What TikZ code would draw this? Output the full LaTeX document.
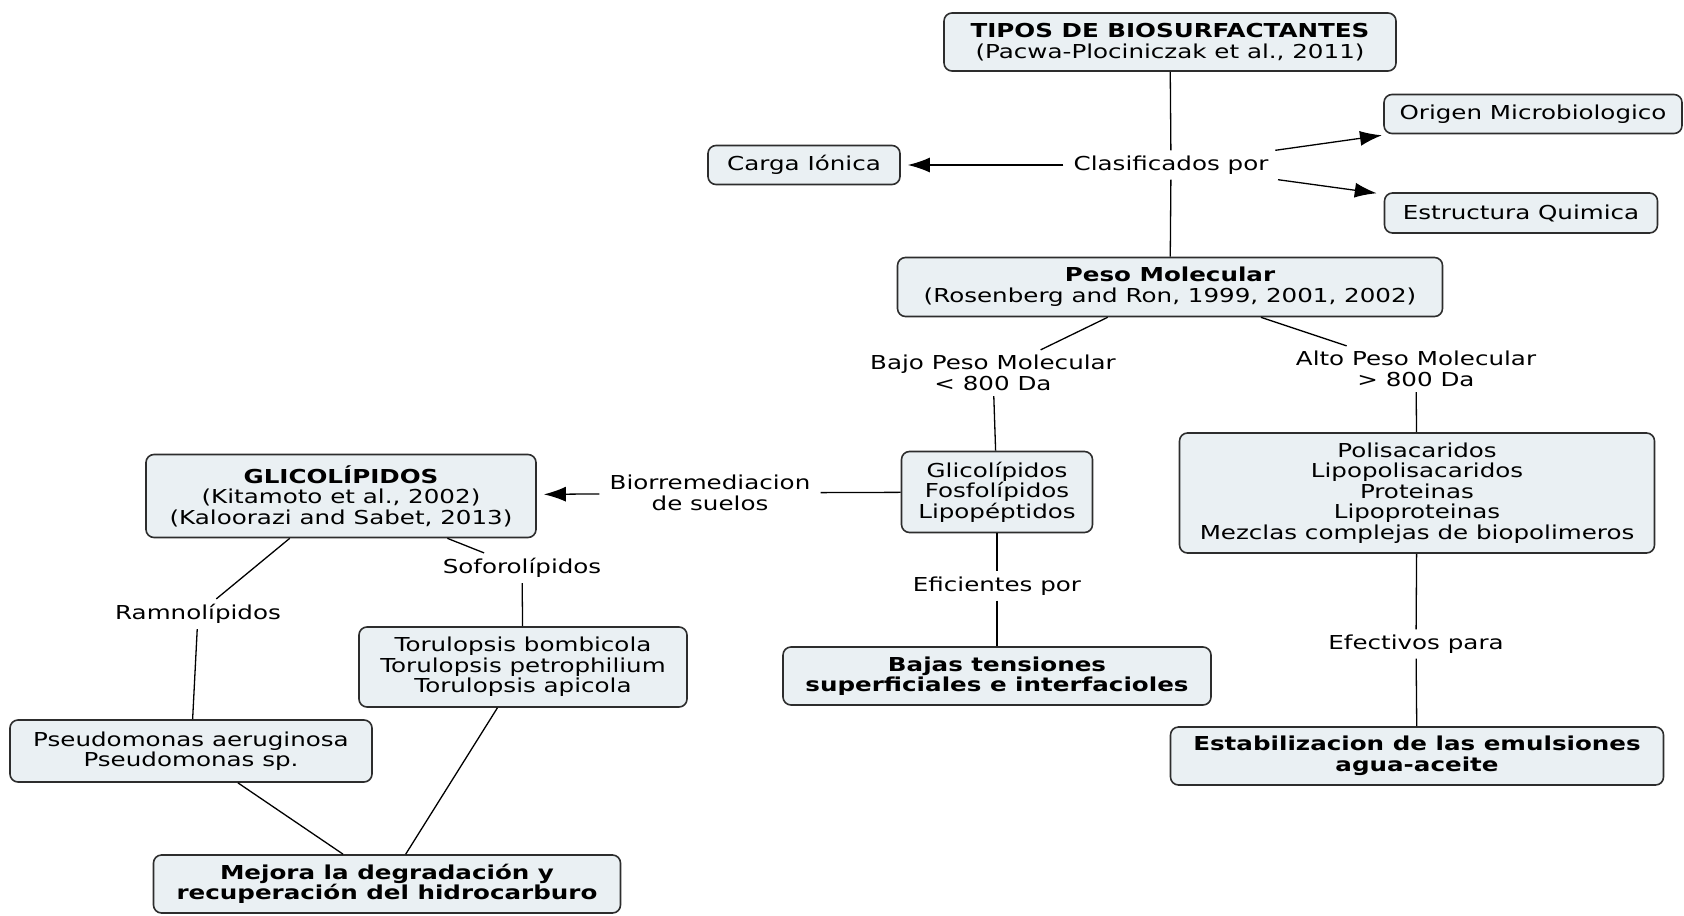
\documentclass[tikz,border=0pt]{standalone}
\usepackage{fontspec}
\setmainfont{DejaVu Sans}[FakeStretch=1.28]
\usepackage{tikz}
\usetikzlibrary{arrows.meta}
\definecolor{boxfill}{RGB}{234,240,243}
\definecolor{boxline}{RGB}{45,45,45}

\begin{document}
\begin{tikzpicture}[x=0.5pt,y=-0.5pt,
    font=\fontsize{9.6pt}{10.3pt}\selectfont,
    box/.style={draw=boxline,fill=boxfill,rounded corners=4pt,line width=0.8pt,align=center,inner sep=0pt},
    lbl/.style={align=center,inner xsep=5pt,inner ysep=2.5pt},
    link/.style={line width=0.65pt},
    arr/.style={link,-{Latex[length=11pt,width=7.5pt]},shorten >=3.5pt}]
\useasboundingbox (0,0) rectangle (1684,915);

\node[box,minimum width=226pt,minimum height=29pt] (tipos) at (1170,42) {\textbf{TIPOS DE BIOSURFACTANTES}\\(Pacwa-Plociniczak et al., 2011)};
\node[lbl] (clasif) at (1171,165) {Clasificados por};
\node[box,minimum width=96pt,minimum height=19.5pt] (carga) at (804,165) {Carga Iónica};
\node[box,minimum width=149pt,minimum height=19.5pt] (origen) at (1533,114) {Origen Microbiologico};
\node[box,minimum width=136.5pt,minimum height=20pt] (estruct) at (1521,213) {Estructura Quimica};
\node[box,minimum width=272.5pt,minimum height=29.5pt] (peso) at (1170,287) {\textbf{Peso Molecular}\\(Rosenberg and Ron, 1999, 2001, 2002)};

\node[lbl] (bajo) at (993,373) {Bajo Peso Molecular\\< 800 Da};
\node[lbl] (alto) at (1416,369) {Alto Peso Molecular\\> 800 Da};
\node[box,minimum width=95.5pt,minimum height=40.5pt] (glico) at (997,492) {Glicolípidos\\Fosfolípidos\\Lipopéptidos};
\node[box,minimum width=237.5pt,minimum height=60pt] (poli) at (1417,493) {Polisacaridos\\Lipopolisacaridos\\Proteinas\\Lipoproteinas\\Mezclas complejas de biopolimeros};
\node[lbl] (efic) at (997,586) {Eficientes por};
\node[box,minimum width=214pt,minimum height=29pt] (bajas) at (997,676) {\textbf{Bajas tensiones}\\\textbf{superficiales e interfacioles}};
\node[lbl] (efect) at (1416,644) {Efectivos para};
\node[box,minimum width=246.5pt,minimum height=29pt] (estab) at (1417,756) {\textbf{Estabilizacion de las emulsiones}\\\textbf{agua-aceite}};

\node[lbl] (bio) at (710,493) {Biorremediacion\\de suelos};
\node[box,minimum width=195pt,minimum height=41.5pt] (glicol) at (341,496) {\textbf{GLICOLÍPIDOS}\\(Kitamoto et al., 2002)\\(Kaloorazi and Sabet, 2013)};
\node[lbl] (sofor) at (522,568) {Soforolípidos};
\node[lbl] (ramno) at (198,614) {Ramnolípidos};
\node[box,minimum width=164pt,minimum height=40pt] (torul) at (523,667) {Torulopsis bombicola\\Torulopsis petrophilium\\Torulopsis apicola};
\node[box,minimum width=181pt,minimum height=31pt] (pseudo) at (191,751) {Pseudomonas aeruginosa\\Pseudomonas sp.};
\node[box,minimum width=233.5pt,minimum height=29pt] (mejora) at (387,884) {\textbf{Mejora la degradación y}\\\textbf{recuperación del hidrocarburo}};

\draw[link] (tipos) -- (clasif);
\draw[link] (clasif) -- (peso);
\foreach \t in {carga,origen,estruct}
    {\draw[arr] (clasif) -- (\t);}
\draw[link] (peso) -- (bajo);
\draw[link] (peso) -- (alto);
\draw[link] (bajo) -- (glico);
\draw[link] (alto) -- (poli);
\draw[link] (glico) -- (efic);
\draw[link] (efic) -- (bajas);
\draw[link] (poli) -- (efect);
\draw[link] (efect) -- (estab);
\draw[link] (glico) -- (bio);
\draw[arr] (bio) -- (glicol);
\draw[link] (glicol) -- (ramno);
\draw[link] (ramno) -- (pseudo);
\draw[link] (glicol) -- (sofor);
\draw[link] (sofor) -- (torul);
\draw[link] (pseudo) -- (mejora);
\draw[link] (torul) -- (mejora);
\end{tikzpicture}
\end{document}
